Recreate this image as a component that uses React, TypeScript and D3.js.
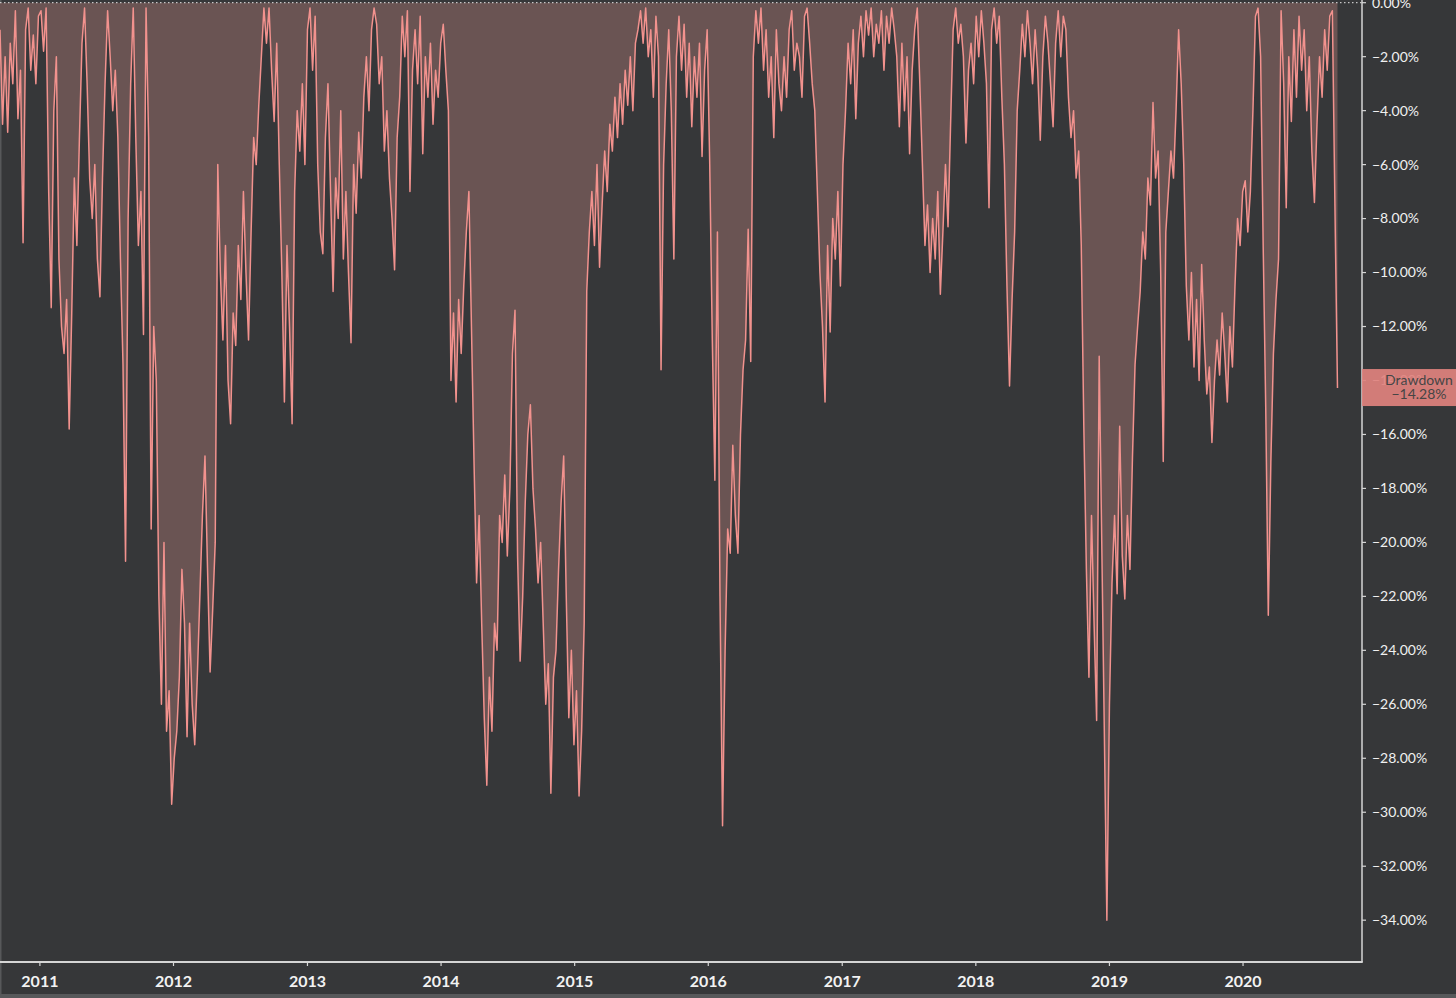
import React from 'react';
import * as d3 from 'd3';

// weekly drawdown (%), first week = 2010-09-14
const dd2010 = [-1.0, -4.5, -2.0, -4.8, -1.5, -3.0, -0.3, -4.3, -2.5, -8.9, -1.0, -0.2, -2.5, -1.2, -3.0, -0.5];
const dd2011 = [
  -0.3, -1.8, -0.2, -7.0, -11.3, -4.0, -2.0, -9.5, -12.0, -13.0, -11.0, -15.8, -11.5,
  -6.5, -9.0, -5.0, -1.5, -0.2, -3.0, -6.5, -8.0, -6.0, -9.5, -10.9, -6.5, -3.0,
  -0.3, -2.0, -4.0, -2.5, -5.0, -9.5, -13.4, -20.7, -8.0, -3.0, -0.2, -5.0, -9.0,
  -7.0, -12.3, -0.2, -5.0, -19.5, -12.0, -14.0, -22.0, -26.0, -20.0, -27.0, -25.5, -29.7,
];
const dd2012 = [
  -28.0, -27.0, -25.0, -21.0, -23.0, -27.2, -23.0, -26.0, -27.5, -25.0, -22.0, -19.0, -16.8,
  -21.0, -24.8, -22.5, -20.0, -6.0, -10.0, -12.5, -9.0, -14.0, -15.6, -11.5, -12.7, -9.0,
  -11.0, -7.0, -10.0, -12.5, -8.5, -5.0, -6.0, -3.8, -2.0, -0.2, -1.5, -0.2, -2.5,
  -4.4, -1.5, -6.0, -10.0, -14.8, -9.0, -12.0, -15.6, -7.0, -4.0, -5.5, -3.0, -6.0,
];
const dd2013 = [
  -1.0, -0.2, -2.5, -0.5, -6.0, -8.5, -9.3, -5.0, -3.0, -7.0, -10.7, -6.5, -8.0,
  -4.0, -9.5, -7.0, -10.0, -12.6, -6.0, -7.8, -4.8, -6.5, -3.5, -2.0, -4.0, -1.0,
  -0.2, -0.8, -3.0, -2.0, -5.5, -4.0, -6.5, -8.0, -9.9, -5.0, -3.5, -0.5, -2.0,
  -0.3, -7.0, -2.5, -1.0, -3.0, -0.5, -5.6, -2.0, -3.5, -1.5, -4.5, -2.5, -3.5,
];
const dd2014 = [
  -1.5, -0.8, -2.5, -4.0, -14.0, -11.5, -14.8, -11.0, -13.0, -10.5, -8.5, -7.0, -12.0,
  -17.0, -21.5, -19.0, -23.0, -26.5, -29.0, -25.0, -27.0, -23.0, -24.0, -19.0, -20.0, -17.5,
  -20.5, -18.0, -13.0, -11.4, -20.5, -24.4, -22.0, -18.5, -16.0, -14.9, -18.0, -19.5, -21.5,
  -20.0, -23.0, -26.0, -24.5, -29.3, -25.0, -24.0, -21.0, -18.5, -16.8, -22.0, -26.5, -24.0,
];
const dd2015 = [
  -27.5, -25.5, -29.4, -27.0, -23.0, -10.7, -8.5, -7.0, -9.0, -6.0, -9.8, -7.5, -5.5,
  -7.0, -4.5, -5.5, -3.5, -5.0, -3.0, -4.5, -2.5, -3.8, -2.0, -4.0, -1.5, -1.0,
  -0.3, -1.5, -0.2, -2.0, -1.0, -3.5, -0.5, -2.0, -13.6, -6.0, -3.0, -1.0, -4.0,
  -9.5, -2.0, -0.5, -2.5, -0.8, -3.5, -1.5, -4.6, -2.0, -3.5, -1.5, -5.7, -2.5, -1.0,
];
const dd2016 = [
  -6.0, -12.5, -17.7, -8.5, -22.0, -30.5, -24.0, -19.5, -20.4, -16.4, -19.0, -20.4, -16.0,
  -13.6, -12.5, -8.4, -13.3, -2.0, -0.3, -1.5, -0.2, -2.5, -1.0, -3.5, -2.0, -5.0,
  -1.0, -3.0, -4.0, -2.0, -3.5, -1.0, -0.3, -2.5, -1.5, -2.0, -3.5, -0.5, -0.2,
  -1.5, -3.0, -4.0, -7.0, -10.0, -12.0, -14.8, -9.0, -12.2, -8.0, -9.5, -7.0, -10.5,
];
const dd2017 = [
  -6.0, -4.0, -1.5, -3.0, -1.0, -4.3, -1.5, -0.5, -2.0, -0.3, -1.2, -0.2, -2.0,
  -0.8, -1.5, -0.3, -2.5, -0.5, -1.5, -0.2, -1.0, -2.0, -4.6, -1.5, -4.0, -2.0,
  -5.6, -2.5, -1.0, -0.2, -3.0, -6.0, -9.0, -7.5, -10.0, -8.0, -9.5, -7.0, -10.8,
  -8.5, -6.0, -8.3, -4.5, -1.0, -0.2, -1.5, -0.8, -2.0, -5.2, -2.5, -1.5, -3.0,
];
const dd2018 = [
  -0.5, -2.0, -0.3, -1.5, -3.0, -7.6, -1.0, -0.2, -1.5, -0.5, -3.5, -6.0, -10.5,
  -14.2, -11.0, -8.5, -4.0, -2.5, -0.8, -2.0, -0.3, -1.5, -3.0, -1.0, -2.5, -5.1,
  -2.0, -0.5, -1.5, -3.0, -4.6, -1.5, -0.3, -2.0, -0.5, -1.0, -3.5, -5.0, -4.0,
  -6.5, -5.5, -9.0, -15.7, -21.0, -25.0, -19.0, -23.0, -26.6, -13.1, -20.0, -27.0, -34.0,
];
const dd2019 = [
  -26.0, -21.5, -19.0, -21.9, -15.7, -20.5, -22.1, -19.0, -21.0, -16.8, -13.4, -12.0, -10.7,
  -8.5, -9.5, -6.5, -7.5, -3.7, -6.5, -5.5, -10.0, -17.0, -8.5, -7.0, -5.5, -6.5,
  -4.0, -1.0, -3.0, -6.0, -10.5, -12.5, -10.0, -13.5, -11.0, -14.0, -9.7, -12.5, -14.5,
  -13.5, -16.3, -14.0, -12.5, -13.8, -11.5, -13.0, -14.8, -12.0, -13.5, -10.5, -8.0, -9.0,
];
const dd2020 = [
  -7.0, -6.6, -8.5, -7.0, -4.0, -0.5, -0.2, -2.0, -9.0, -15.0, -22.7, -17.0, -13.0,
  -11.0, -9.5, -0.3, -3.0, -7.6, -2.0, -4.4, -1.0, -3.5, -0.5, -2.5, -1.0, -4.0,
  -2.0, -5.5, -7.4, -4.5, -2.0, -3.5, -1.0, -2.5, -0.5, -0.3, -7.5, -14.28,
];

const yTicks = [0, -2, -4, -6, -8, -10, -12, -14, -16, -18, -20, -22, -24, -26, -28, -30, -32, -34];
const xTickYears = [2011, 2012, 2013, 2014, 2015, 2016, 2017, 2018, 2019, 2020];
const seriesName = 'Drawdown';

const W = 1456;
const H = 998;
const plotRight = 1362;
const plotBottom = 962;

const bg = '#363739';
const lineColor = '#f2928e';
const fillColor = '#6a5453';
const axisColor = '#d6d6d6';
const font = 'Lato, "Open Sans", sans-serif';

export default function App() {
  const start = new Date(2010, 8, 14);
  const values = [
    ...dd2010, ...dd2011, ...dd2012, ...dd2013, ...dd2014, ...dd2015,
    ...dd2016, ...dd2017, ...dd2018, ...dd2019, ...dd2020,
  ];
  const data = values.map((v, i) => ({ date: d3.timeDay.offset(start, i * 7), value: v }));
  const last = data[data.length - 1];

  const x = d3.scaleTime()
    .domain([new Date(2010, 8, 14), new Date(2020, 10, 21)])
    .range([0, plotRight]);
  const y = d3.scaleLinear()
    .domain([0, -35.55])
    .range([2.7, plotBottom]);

  const area = d3.area<any>()
    .x(d => x(d.date))
    .y0(y(0))
    .y1(d => y(d.value));
  const line = d3.line<any>()
    .x(d => x(d.date))
    .y(d => y(d.value));

  const fmt = (v: number) => (v === 0 ? '0.00%' : d3.format('.2f')(v) + '%');
  const ly = y(last.value);

  return (
    <svg width={W} height={H} style={{ position: 'absolute', left: 0, top: 0, display: 'block' }}>
      <rect width={W} height={H} fill={bg} />
      <rect x={0} y={994} width={W} height={4} fill="#57585a" />
      <line x1={0.75} x2={0.75} y1={0} y2={994} stroke="#57585a" strokeWidth={1.5} />

      <path d={area(data) || ''} fill={fillColor} />
      <path d={line(data) || ''} fill="none" stroke={lineColor} strokeWidth={1.5} strokeLinejoin="round" />

      {/* zero line */}
      <line x1={0} x2={plotRight} y1={y(0)} y2={y(0)} stroke="#e8e8e8" strokeWidth={1} strokeDasharray="1.5 2.5" />

      {/* right axis */}
      <line x1={plotRight} x2={plotRight} y1={0} y2={plotBottom} stroke={axisColor} strokeWidth={1.5} />
      {yTicks.map(t => (
        <g key={t} transform={`translate(${plotRight},${y(t)})`}>
          <line x1={0} x2={4} stroke={axisColor} strokeWidth={1.2} />
          <text x={10} dy="0.35em" fill="#f0f0f0" fontSize={14} fontFamily={font}>{fmt(t)}</text>
        </g>
      ))}

      {/* bottom axis */}
      <line x1={0} x2={plotRight + 0.75} y1={plotBottom} y2={plotBottom} stroke={axisColor} strokeWidth={1.8} />
      {xTickYears.map(yr => {
        const px = x(new Date(yr, 0, 1));
        return (
          <g key={yr} transform={`translate(${px},${plotBottom})`}>
            <line y1={0} y2={4} stroke={axisColor} strokeWidth={1.2} />
            <text y={25} textAnchor="middle" fill="#f2f2f2" fontSize={16} fontWeight={700} fontFamily={font}>{yr}</text>
          </g>
        );
      })}

      {/* last value label, drawn over the -14.00% tick like the original */}
      <rect x={plotRight} y={ly - 19} width={W - plotRight} height={37} fill="#e0827e" opacity={0.92} />
      <text x={1419} y={ly - 3} textAnchor="middle" fill="#454545" fontSize={14} fontFamily={font}>{seriesName}</text>
      <text x={1419} y={ly + 11} textAnchor="middle" fill="#454545" fontSize={14} fontFamily={font}>{fmt(last.value)}</text>
    </svg>
  );
}
